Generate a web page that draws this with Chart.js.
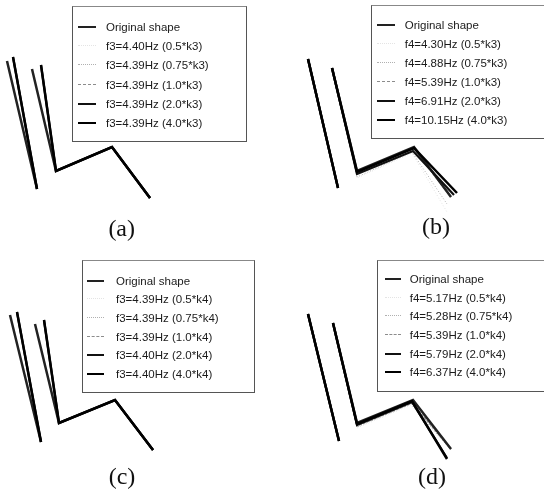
<!DOCTYPE html>
<html><head><meta charset="utf-8">
<script src="https://cdn.jsdelivr.net/npm/chart.js@4.4.1/dist/chart.umd.min.js"></script>
<style>
html,body{margin:0;padding:0;background:#fff;}
#wrap{position:relative;width:544px;height:490px;overflow:hidden;background:#fff;}
.panel{position:absolute;width:272px;height:245px;}
.panel canvas{position:absolute;left:0;top:0;}
.legend{position:absolute;box-sizing:border-box;border:1px solid #555;font-family:'Liberation Sans',Arial,sans-serif;font-size:11.5px;color:#1a1a1a;}
.legend .row{position:absolute;left:0;height:14px;line-height:14px;white-space:nowrap;}
.legend .sample{position:absolute;top:6px;height:0;}
.legend .txt{position:absolute;top:0;}
</style></head><body><div id="wrap"></div>
<script>
// ---------- DATA (local structure coordinates, origin at left column base, y up) ----------
const labelsA = ['Original shape','f3=4.40Hz (0.5*k3)','f3=4.39Hz (0.75*k3)','f3=4.39Hz (1.0*k3)','f3=4.39Hz (2.0*k3)','f3=4.39Hz (4.0*k3)'];
const labelsB = ['Original shape','f4=4.30Hz (0.5*k3)','f4=4.88Hz (0.75*k3)','f4=5.39Hz (1.0*k3)','f4=6.91Hz (2.0*k3)','f4=10.15Hz (4.0*k3)'];
const labelsC = ['Original shape','f3=4.39Hz (0.5*k4)','f3=4.39Hz (0.75*k4)','f3=4.39Hz (1.0*k4)','f3=4.40Hz (2.0*k4)','f3=4.40Hz (4.0*k4)'];
const labelsD = ['Original shape','f4=5.17Hz (0.5*k4)','f4=5.28Hz (0.75*k4)','f4=5.39Hz (1.0*k4)','f4=5.79Hz (2.0*k4)','f4=6.37Hz (4.0*k4)'];
const panelTitles = ['(a)','(b)','(c)','(d)'];

// each shape: left column (base -> top), gap, inner column top -> corner -> knee -> right end
const shapesA = [
  [[0,0],[-30,128],null,[-5,120],[19,18],[75,42],[113,-9]],
  [[0,0],[-24,132],null,[4,124],[19,18],[75,42],[113,-9]],
  [[0,0],[-24,132],null,[4,124],[19,18],[75,42],[113,-9]],
  [[0,0],[-24,132],null,[4,124],[19,18],[75,42],[113,-9]],
  [[0,0],[-24,132],null,[4,124],[19,18],[75,42],[113,-9]],
  [[0,0],[-24,132],null,[4,124],[19,18],[75,42],[113,-9]]
];
const shapesB = [
  [[0,0],[-30,129],null,[-6,120],[19,17],[76,41],[113,-9]],
  [[0,0],[-29,129],null,[-5,120],[19,10],[74,35],[109,-24]],
  [[0,0],[-29,129],null,[-5,120],[19,11],[74,36],[109,-16]],
  [[0,0],[-29.5,129],null,[-5.5,120],[19,16],[75,40],[113,-9]],
  [[0,0],[-30,129],null,[-6,120],[19,14],[75,37],[116,-7]],
  [[0,0],[-30,129],null,[-6,120],[19,16],[76,40],[119,-5]]
];
const shapesC = [
  [[0,0],[-31,127],null,[-6,118],[18,19],[74,42],[112,-8]],
  [[0,0],[-24,130],null,[3,122],[18,19],[74,42],[112,-8]],
  [[0,0],[-24,130],null,[3,122],[18,19],[74,42],[112,-8]],
  [[0,0],[-24,130],null,[3,122],[18,19],[74,42],[112,-8]],
  [[0,0],[-24,130],null,[3,122],[18,19],[74,42],[112,-8]],
  [[0,0],[-24,130],null,[3,122],[18,19],[74,42],[112,-8]]
];
const shapesD = [
  [[0,0],[-31,127],null,[-6,118],[18,18],[74,41],[112,-8]],
  [[0,0],[-31,127],null,[-6,118],[18,13],[72,36],[112,-9]],
  [[0,0],[-31,127],null,[-6,118],[18,14],[72,37],[112,-9]],
  [[0,0],[-31,127],null,[-6,118],[18,15],[73,38],[112,-8]],
  [[0,0],[-31,127],null,[-6,118],[18,16],[73,39],[108,-17]],
  [[0,0],[-31,127],null,[-6,118],[18,17],[73,40],[108,-18]]
];

// ---------- STYLE / LAYOUT ----------
// z: drawing order (lower = drawn on top)
const lineStyles = [
  {c:'#222222', w:2.5, d:[],    z:3},
  {c:'#e4e4e4', w:1,   d:[1,2], z:6},
  {c:'#b0b0b0', w:1,   d:[1,2], z:5},
  {c:'#8c8c8c', w:1.4, d:[3,1], z:4},
  {c:'#111111', w:2.2, d:[],    z:2},
  {c:'#000000', w:2.5, d:[],    z:1}
];
const panels = [
  {x:0,   y:0,   ox:37, oy:189, tx:121.7, ty:230,   labels:labelsA, shapes:shapesA,
   leg:{left:72, top:6, width:175, height:136, right:true, r0:21, step:19.2, sx:5, sw:18, tx:33}},
  {x:272, y:0,   ox:66, oy:188, tx:164,   ty:228,   labels:labelsB, shapes:shapesB,
   leg:{left:371, top:5, width:175, height:134, right:false, r0:20, step:18.9, sx:5, sw:18, tx:32.7}},
  {x:0,   y:245, ox:41, oy:197, tx:122,   ty:233.5, labels:labelsC, shapes:shapesC,
   leg:{left:82, top:260, width:173, height:133, right:true, r0:20.5, step:18.7, sx:4, sw:17, tx:33}},
  {x:272, y:245, ox:67, oy:196, tx:160,   ty:233.3, labels:labelsD, shapes:shapesD,
   leg:{left:377, top:260, width:169, height:132, right:false, r0:18.8, step:18.7, sx:7, sw:16, tx:31.7}}
];

const W = 272, H = 245, TSIZE = 24, TPADTOP = 4;
const wrap = document.getElementById('wrap');

panels.forEach((p, pi) => {
  const div = document.createElement('div');
  div.className = 'panel';
  div.style.left = p.x + 'px'; div.style.top = p.y + 'px';
  const cv = document.createElement('canvas');
  cv.width = W; cv.height = H;
  div.appendChild(cv);
  wrap.appendChild(div);

  const L = p.tx > W/2 ? 2*p.tx - W : 0;
  const R = p.tx < W/2 ? W - 2*p.tx : 0;
  const pb = Math.max(0, H - p.ty - TSIZE/2);
  const block = TPADTOP + TSIZE + pb;
  const areaH = H - block;

  const datasets = p.shapes.map((pts, i) => ({
    label: p.labels[i],
    data: pts.map(q => q ? {x:q[0], y:q[1]} : {x:null, y:null}),
    order: lineStyles[i].z,
    showLine: true,
    spanGaps: false,
    borderColor: lineStyles[i].c,
    backgroundColor: lineStyles[i].c,
    borderWidth: lineStyles[i].w,
    borderDash: lineStyles[i].d,
    borderJoinStyle: 'miter',
    borderCapStyle: 'butt',
    pointRadius: 0,
    pointHoverRadius: 0,
    tension: 0,
    clip: false
  }));

  new Chart(cv, {
    type: 'scatter',
    data: { datasets },
    options: {
      responsive: false,
      animation: false,
      devicePixelRatio: 1,
      events: [],
      layout: { padding: { left: L, right: R, top: 0, bottom: 0 } },
      scales: {
        x: { type:'linear', display:false, min: L - p.ox, max: W - R - p.ox },
        y: { type:'linear', display:false, min: p.oy - areaH, max: p.oy }
      },
      plugins: {
        legend: { display: false },
        tooltip: { enabled: false },
        title: {
          display: true, position: 'bottom', text: panelTitles[pi], color: '#111',
          font: { family: "'Liberation Serif','Times New Roman',serif", size: TSIZE, weight: 'normal', lineHeight: 1 },
          padding: { top: TPADTOP, bottom: pb }
        }
      }
    }
  });

  // HTML legend built from the same labels and line styles (in legend order)
  const lg = document.createElement('div');
  lg.className = 'legend';
  const g = p.leg;
  lg.style.left = g.left + 'px'; lg.style.top = g.top + 'px';
  lg.style.width = g.width + 'px'; lg.style.height = g.height + 'px';
  if (!g.right) lg.style.borderRight = 'none';
  lg.style.borderTopColor = '#888';
  p.labels.forEach((lab, i) => {
    const row = document.createElement('div');
    row.className = 'row';
    row.style.top = (g.r0 + i*g.step - 7 - 1) + 'px';
    const s = document.createElement('span');
    s.className = 'sample';
    const st = lineStyles[i];
    const kind = st.d.length ? (st.d[0] <= 1 ? 'dotted' : 'dashed') : 'solid';
    s.style.left = g.sx + 'px'; s.style.width = g.sw + 'px';
    s.style.borderTop = Math.min(2, Math.max(1, Math.round(st.w))) + 'px ' + kind + ' ' + st.c;
    const t = document.createElement('span');
    t.className = 'txt';
    t.style.left = g.tx + 'px';
    t.textContent = lab;
    row.appendChild(s); row.appendChild(t);
    lg.appendChild(row);
  });
  wrap.appendChild(lg);
});
</script></body></html>
